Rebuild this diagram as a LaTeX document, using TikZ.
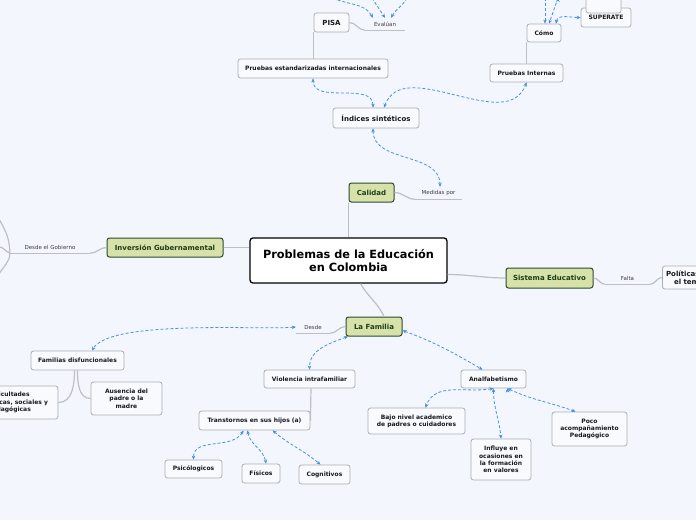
\documentclass[tikz,border=0pt]{standalone}
\usepackage{fontspec}
\setmainfont{DejaVu Sans}
\usetikzlibrary{arrows.meta}
\definecolor{bgblue}{RGB}{243,246,253}
\definecolor{boxwhite}{RGB}{249,250,253}
\definecolor{boxgray}{RGB}{172,174,180}
\definecolor{boxtext}{RGB}{25,25,30}
\definecolor{greenfill}{RGB}{214,226,170}
\definecolor{greenline}{RGB}{45,75,45}
\definecolor{greentext}{RGB}{30,60,25}
\definecolor{linegray}{RGB}{190,191,196}
\definecolor{relblue}{RGB}{70,145,235}
\definecolor{taggray}{RGB}{60,60,65}

\begin{document}
\begin{tikzpicture}[x=1pt, y=1pt,
    every node/.style={align=center, inner sep=2pt, font=\fontsize{6}{7.3}\selectfont\bfseries},
    topic/.style={draw=boxgray, fill=boxwhite, rounded corners=2.5pt, line width=0.8pt, text=boxtext},
    bigtopic/.style={topic, font=\fontsize{7}{8.4}\selectfont\bfseries},
    branch/.style={draw=greenline, fill=greenfill, rounded corners=2.5pt, line width=1pt, text=greentext, font=\fontsize{7}{8.4}\selectfont\bfseries},
    mainidea/.style={draw=black, fill=white, rounded corners=3pt, line width=1.3pt, text=black, font=\fontsize{11.3}{13}\selectfont\bfseries},
    tag/.style={inner sep=0pt, minimum height=12pt, text=taggray, font=\fontsize{5.5}{6.5}\selectfont},
    tree/.style={draw=linegray, line width=1.2pt},
    rel/.style={draw=relblue, line width=0.8pt, dash pattern=on 3pt off 2pt, {Stealth[length=4pt,width=3.5pt]}-{Stealth[length=4pt,width=3.5pt]}},
    relin/.style={rel, -{Stealth[length=4pt,width=3.5pt]}}]

    \fill[bgblue] (0,-520) rectangle (696,0);
    \useasboundingbox (0,-520) rectangle (696,0);

    \node[mainidea, minimum width=197pt, minimum height=45pt] (main) at (348.5,-260.5) {Problemas de la Educación\\en Colombia};

    \node[branch, minimum width=45pt, minimum height=19pt] (calidad) at (371.5,-192.5) {Calidad};
    \node[branch, minimum width=116pt, minimum height=19pt] (inv) at (165,-247.5) {Inversión Gubernamental};
    \node[branch, minimum width=87pt, minimum height=20pt] (sis) at (549.5,-278) {Sistema Educativo};
    \node[branch, minimum width=56pt, minimum height=19pt] (fam) at (374,-326.5) {La Familia};

    \node[tag, minimum width=47pt] (medidas) at (438.5,-193) {Medidas por};
    \node[tag, minimum width=40pt] (evaluan) at (385,-24) {Evalúan};
    \node[tag, minimum width=80pt] (gobierno) at (50,-247) {Desde el Gobierno};
    \node[tag, minimum width=45pt] (falta) at (627.5,-278) {Falta};
    \node[tag, minimum width=34pt] (desde) at (313,-327) {Desde};

    \node[bigtopic, minimum width=86pt, minimum height=20pt] (idx) at (376,-118) {Índices sintéticos};
    \node[topic, minimum width=150pt, minimum height=19pt] (pest) at (313,-68.5) {Pruebas estandarizadas internacionales};
    \node[topic, minimum width=73pt, minimum height=18pt] (pint) at (526.5,-73) {Pruebas Internas};
    \node[bigtopic, minimum width=35pt, minimum height=19pt] (pisa) at (331.5,-22.5) {PISA};
    \node[topic, minimum width=34pt, minimum height=18pt] (como) at (544,-33) {Cómo};
    \node[topic, minimum width=50pt, minimum height=19pt] (superate) at (606,-17.5) {SUPERATE};
    \node[topic, minimum width=35pt, minimum height=19pt] (extra) at (603.5,-3.5) {};
    \node[bigtopic, minimum width=53pt, minimum height=23pt, anchor=west] (pol) at (662,-277.5) {Políticas en\\el tema};

    \node[topic, minimum width=93pt, minimum height=19pt] (fdis) at (77.5,-360.5) {Familias disfuncionales};
    \node[topic, minimum width=97pt, minimum height=33pt] (dif) at (9.5,-402.5) {Dificultades\\académicas, sociales y\\pedagógicas};
    \node[topic, minimum width=71pt, minimum height=33pt] (aus) at (126.5,-398.5) {Ausencia del\\padre o la\\madre};
    \node[topic, minimum width=91pt, minimum height=18pt] (vio) at (309.5,-379) {Violencia intrafamiliar};
    \node[topic, minimum width=111pt, minimum height=19pt] (trans) at (254.5,-420.5) {Transtornos en sus hijos (a)};
    \node[topic, minimum width=57pt, minimum height=18pt] (psi) at (193.5,-469) {Psicólogicos};
    \node[topic, minimum width=38pt, minimum height=19pt] (fis) at (261,-473.5) {Físicos};
    \node[topic, minimum width=51pt, minimum height=19pt] (cog) at (324.5,-474.5) {Cognitivos};
    \node[topic, minimum width=65pt, minimum height=18pt] (anal) at (493.5,-379) {Analfabetismo};
    \node[topic, minimum width=97pt, minimum height=26pt] (bajo) at (416.5,-421) {Bajo nivel academico\\de padres o cuidadores};
    \node[topic, minimum width=60pt, minimum height=41pt] (infl) at (501,-459.5) {Influye en\\ocasiones en\\la formación\\en valores};
    \node[topic, minimum width=75pt, minimum height=34pt] (poco) at (589.5,-429) {Poco\\acompañamiento\\Pedagógico};

    \coordinate (off1) at (-1,-219);
    \coordinate (off2) at (-1,-247);
    \coordinate (off3) at (-1,-274);
    \coordinate (ev1) at (333,2);
    \coordinate (ev2) at (372,2);
    \coordinate (ev3) at (407,2);
    \coordinate (co1) at (545,2);
    \coordinate (co2) at (558,2);

    \path[tree]
        (main.north -| calidad.south west) edge (calidad.south west)
        (inv.east) edge (inv.east -| main.west)
        ([yshift=-14pt]main.east) edge[out=0, in=180] (sis.west)
        ([xshift=12pt]main.south) edge[out=-60, in=115] ([xshift=10pt]fam.north)
        (calidad.east) edge[out=0, in=180] (medidas.south west)
        (medidas.south west) edge (medidas.south east)
        (pisa.east) edge[out=0, in=180] (evaluan.south west)
        (evaluan.south west) edge (evaluan.south east)
        (pisa.south west) edge (pisa.south west |- pest.north)
        (como.south west) edge (como.south west |- pint.north)
        (inv.west) edge[out=180, in=0] (gobierno.south east)
        (gobierno.south east) edge (gobierno.south west)
        (gobierno.south west) edge[out=90, in=-60] (off1)
        (gobierno.south west) edge[out=160, in=0] (off2)
        (gobierno.south west) edge[out=-90, in=60] (off3)
        (sis.east) edge[out=0, in=180] (falta.south west)
        (falta.south west) edge (falta.south east)
        (falta.south east) edge[out=0, in=180] (pol.west)
        (fam.west) edge[out=180, in=0] (desde.south east)
        (desde.south east) edge (desde.south west)
        ([xshift=-3pt]fdis.south) edge[out=-90, in=0] (dif.east)
        (fdis.south) edge[out=-90, in=180] (aus.west)
        ([xshift=1.5pt]vio.south) edge (trans.east);

    \path[rel]
        ([xshift=-3pt]idx.south) edge[out=-90, in=90] ([xshift=1.5pt]medidas.north)
        ([xshift=-3pt]idx.north) edge[out=90, in=-90] (pest.south)
        ([xshift=8pt]idx.north) edge[out=70, in=-110] (pint.south)
        ([xshift=12pt]como.north) edge[out=80, in=180] (superate.west)
        (desde.west) edge[out=185, in=60, looseness=0.45] ([xshift=14.5pt]fdis.north)
        ([xshift=-26pt]fam.south) edge[out=-160, in=90] (vio.north)
        ([yshift=-4pt]fam.east) edge[out=-20, in=150] ([xshift=-11pt]anal.north)
        ([xshift=-11pt]trans.south) edge[out=-120, in=90] (psi.north)
        ([xshift=-7pt]trans.south) edge[out=-80, in=100] ([xshift=5pt]fis.north)
        ([xshift=18pt]trans.south) edge[out=-40, in=140] ([xshift=-4pt]cog.north)
        (anal.south) edge[out=-170, in=70] ([xshift=9pt]bajo.north)
        (anal.south) edge[out=-90, in=95] (infl.north)
        ([xshift=14pt]anal.south) edge[out=-25, in=160] ([xshift=-14pt]poco.north);

    \path[relin]
        (ev1) edge[out=-25, in=120] ([xshift=-12pt]evaluan.north)
        (ev2) edge (evaluan.north)
        (ev3) edge[out=-120, in=60] ([xshift=6pt]evaluan.north)
        (co1) edge ([xshift=1pt]como.north)
        (co2) edge[out=-110, in=70] ([xshift=5pt]como.north);
\end{tikzpicture}
\end{document}
